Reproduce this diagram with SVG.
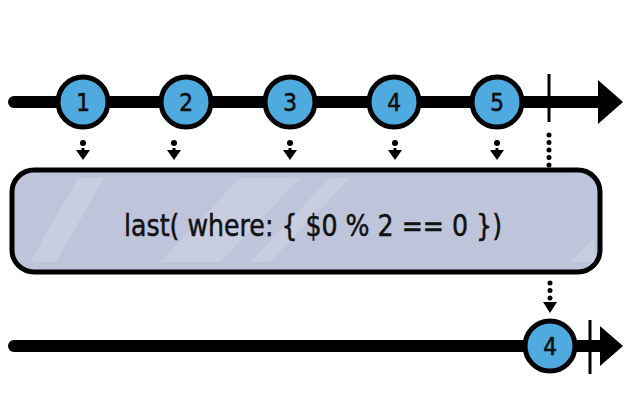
<svg xmlns="http://www.w3.org/2000/svg" width="640" height="411" viewBox="0 0 640 411">
<style>
.line{stroke:#000;stroke-width:12;stroke-linecap:round;fill:none}
.tick{stroke:#000;stroke-width:3;fill:none}
.marble{fill:#4FAADF;stroke:#000;stroke-width:5}
.lbl{font-family:"DejaVu Sans Condensed","Liberation Sans Narrow","Liberation Sans",sans-serif;font-size:24px;fill:#111;text-anchor:middle;stroke:#111;stroke-width:0.6}
.dot{stroke:#000;stroke-width:5;stroke-linecap:round;stroke-dasharray:0 7.5;fill:none}
.op{font-family:"DejaVu Sans Condensed","Liberation Sans Narrow","Liberation Sans",sans-serif;font-size:31px;fill:#111;text-anchor:middle;stroke:#111;stroke-width:0.5}
</style>
<g id="connectors">
<line class="line" x1="14" y1="102" x2="604" y2="102"/>
<path d="M598,80 L623,102 L598,124 Z" fill="#000"/>
<line class="tick" x1="549" y1="74" x2="549" y2="122"/>
<line class="line" x1="14" y1="346" x2="604" y2="346"/>
<path d="M600,326 L623,346 L600,366 Z" fill="#000"/>
<line class="tick" x1="590" y1="320" x2="590" y2="374"/>
<g id="inputs">
<circle cx="83" cy="143" r="3"/><path d="M76,150 L90,150 L83,160 Z"/><line x1="83" y1="148" x2="83" y2="152" stroke="#000" stroke-width="3"/>
<circle cx="174" cy="143" r="3"/><path d="M167,150 L181,150 L174,160 Z"/><line x1="174" y1="148" x2="174" y2="152" stroke="#000" stroke-width="3"/>
<circle cx="290" cy="143" r="3"/><path d="M283,150 L297,150 L290,160 Z"/><line x1="290" y1="148" x2="290" y2="152" stroke="#000" stroke-width="3"/>
<circle cx="395" cy="143" r="3"/><path d="M388,150 L402,150 L395,160 Z"/><line x1="395" y1="148" x2="395" y2="152" stroke="#000" stroke-width="3"/>
<circle cx="497" cy="143" r="3"/><path d="M490,150 L504,150 L497,160 Z"/><line x1="497" y1="148" x2="497" y2="152" stroke="#000" stroke-width="3"/>
<line class="dot" x1="549" y1="135" x2="549" y2="166"/>
<line class="dot" x1="550" y1="283" x2="550" y2="299"/>
<path d="M543,302 L557,302 L550,313 Z"/>
</g>
</g>
<g id="operator">
<rect x="12" y="170" width="588" height="102" rx="22" fill="#BEC4DA" stroke="#000" stroke-width="5"/>
<path d="M30,262 L78,178 L104,178 L56,262 Z" fill="#CDD2E3" opacity="0.7"/>
<path d="M160,262 L240,178 L300,178 L220,262 Z" fill="#CDD2E3" opacity="0.7"/>
<path d="M250,262 L330,178 L350,178 L270,262 Z" fill="#CDD2E3" opacity="0.7"/>
<path d="M570,262 L594,238 L594,262 Z" fill="#CDD2E3" opacity="0.7"/>
<text class="op" x="313" y="236" textLength="378" lengthAdjust="spacingAndGlyphs">last( where: { $0 % 2 == 0 })</text>
</g>
<g id="m1"><circle class="marble" cx="83" cy="102" r="25"/><text class="lbl" x="83" y="111">1</text></g>
<g id="m2"><circle class="marble" cx="186" cy="102" r="25"/><text class="lbl" x="186" y="111">2</text></g>
<g id="m3"><circle class="marble" cx="290" cy="102" r="25"/><text class="lbl" x="290" y="111">3</text></g>
<g id="m4"><circle class="marble" cx="394" cy="102" r="25"/><text class="lbl" x="394" y="111">4</text></g>
<g id="m5"><circle class="marble" cx="497" cy="102" r="25"/><text class="lbl" x="497" y="111">5</text></g>
<g id="out4"><circle class="marble" cx="550" cy="346" r="25"/><text class="lbl" x="550" y="355">4</text></g>
</svg>
